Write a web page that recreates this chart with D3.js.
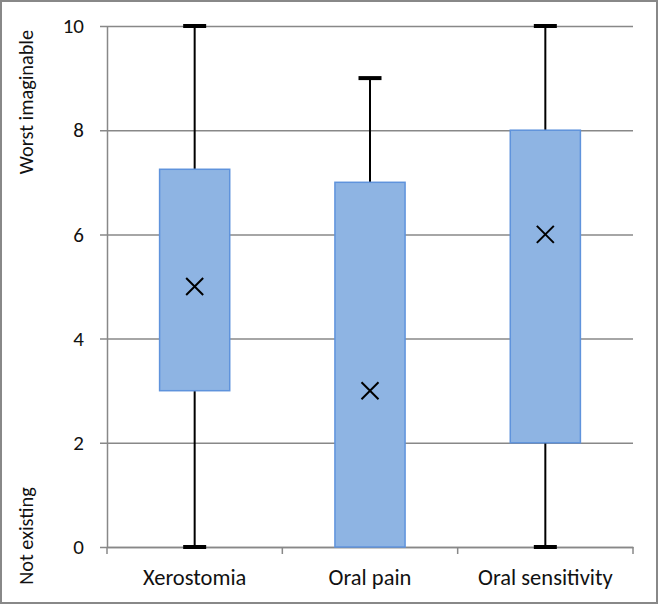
<!DOCTYPE html>
<html>
<head>
<meta charset="utf-8">
<script src="https://cdn.jsdelivr.net/npm/d3@7"></script>
<style>
  body { margin: 0; background: #fff; }
  text { font-family: Carlito, "Open Sans", sans-serif; fill: #111; }
</style>
</head>
<body>
<div id="chart"></div>
<script>
// box plot values
const categories = ['Xerostomia', 'Oral pain', 'Oral sensitivity'];
const minValues = [0, 0, 0];
const q1Values = [3, 0, 2];
const medianValues = [5, 3, 6];
const q3Values = [7.25, 7, 8];
const maxValues = [10, 9, 10];
const yTicks = [0, 2, 4, 6, 8, 10];

const width = 659;
const height = 606;
const margin = { top: 26, right: 26, bottom: 59, left: 107 };
const font = 'Carlito, "Open Sans", sans-serif';

const svg = d3.select('#chart')
  .append('svg')
  .attr('width', width)
  .attr('height', height);

// outer frame
svg.append('rect')
  .attr('x', 1).attr('y', 1)
  .attr('width', width - 3).attr('height', height - 4)
  .attr('fill', 'none')
  .attr('stroke', '#888')
  .attr('stroke-width', 2);

const x = d3.scaleBand()
  .domain(categories)
  .range([margin.left, width - margin.right]);

const y = d3.scaleLinear()
  .domain([0, 10])
  .range([height - margin.bottom, margin.top]);

const plotW = width - margin.left - margin.right;

// gridlines + y labels
const yAxis = svg.append('g')
  .attr('transform', `translate(${margin.left},0)`)
  .call(d3.axisLeft(y).tickValues(yTicks).tickSize(-plotW).tickSizeOuter(0).tickPadding(23));
yAxis.select('.domain').attr('stroke', '#888').attr('stroke-width', 1.5);
yAxis.selectAll('.tick line').attr('stroke', '#888').attr('stroke-width', 1.5).attr('x2', plotW).attr('x1', -7);
yAxis.selectAll('.tick text')
  .style('font-size', '21px').style('font-family', font).attr('fill', '#111');

// x axis
const xAxis = svg.append('g')
  .attr('transform', `translate(0,${height - margin.bottom})`)
  .call(d3.axisBottom(x).tickSize(0).tickPadding(22));
xAxis.select('.domain').attr('stroke', '#888').attr('stroke-width', 1.5);
xAxis.selectAll('.tick text')
  .style('font-size', '22.5px').style('font-family', font).attr('fill', '#111');

// tick marks at category boundaries
const bounds = categories.map(c => x(c)).concat([x(categories[categories.length - 1]) + x.bandwidth()]);
svg.append('g').selectAll('line')
  .data(bounds)
  .enter().append('line')
  .attr('x1', d => d).attr('x2', d => d)
  .attr('y1', y(0)).attr('y2', y(0) + 7)
  .attr('stroke', '#888').attr('stroke-width', 1.5);

// axis titles
svg.append('text')
  .attr('transform', 'translate(33, 102) rotate(-90)')
  .attr('text-anchor', 'middle')
  .style('font-size', '20.3px')
  .text('Worst imaginable');
svg.append('text')
  .attr('transform', 'translate(33, 536) rotate(-90)')
  .attr('text-anchor', 'middle')
  .style('font-size', '20.3px')
  .text('Not existing');

const boxW = x.bandwidth() * 0.4;
const capW = 23;

const groups = svg.selectAll('.box')
  .data(categories)
  .enter().append('g')
  .attr('class', 'box')
  .attr('transform', d => `translate(${x(d) + x.bandwidth() / 2},0)`);

// whiskers
groups.append('line')
  .attr('x1', 0).attr('x2', 0)
  .attr('y1', (d, i) => y(maxValues[i]))
  .attr('y2', (d, i) => y(minValues[i]))
  .attr('stroke', '#000').attr('stroke-width', 2);

groups.filter((d, i) => maxValues[i] > q3Values[i]).append('rect')
  .attr('x', -capW / 2).attr('width', capW)
  .attr('y', d => y(maxValues[categories.indexOf(d)]) - 2).attr('height', 4)
  .attr('fill', '#000');
groups.filter((d, i) => minValues[i] < q1Values[i]).append('rect')
  .attr('x', -capW / 2).attr('width', capW)
  .attr('y', d => y(minValues[categories.indexOf(d)]) - 2).attr('height', 4)
  .attr('fill', '#000');

// boxes
groups.append('rect')
  .attr('x', -boxW / 2).attr('width', boxW)
  .attr('y', (d, i) => y(q3Values[i]))
  .attr('height', (d, i) => y(q1Values[i]) - y(q3Values[i]))
  .attr('fill', '#8EB4E3')
  .attr('stroke', '#5F93DC')
  .attr('stroke-width', 1.5);

// median markers
const m = 8.5;
groups.append('path')
  .attr('d', (d, i) => {
    const cy = y(medianValues[i]);
    return `M${-m},${cy - m}L${m},${cy + m}M${-m},${cy + m}L${m},${cy - m}`;
  })
  .attr('stroke', '#000').attr('stroke-width', 2).attr('fill', 'none');
</script>
</body>
</html>
